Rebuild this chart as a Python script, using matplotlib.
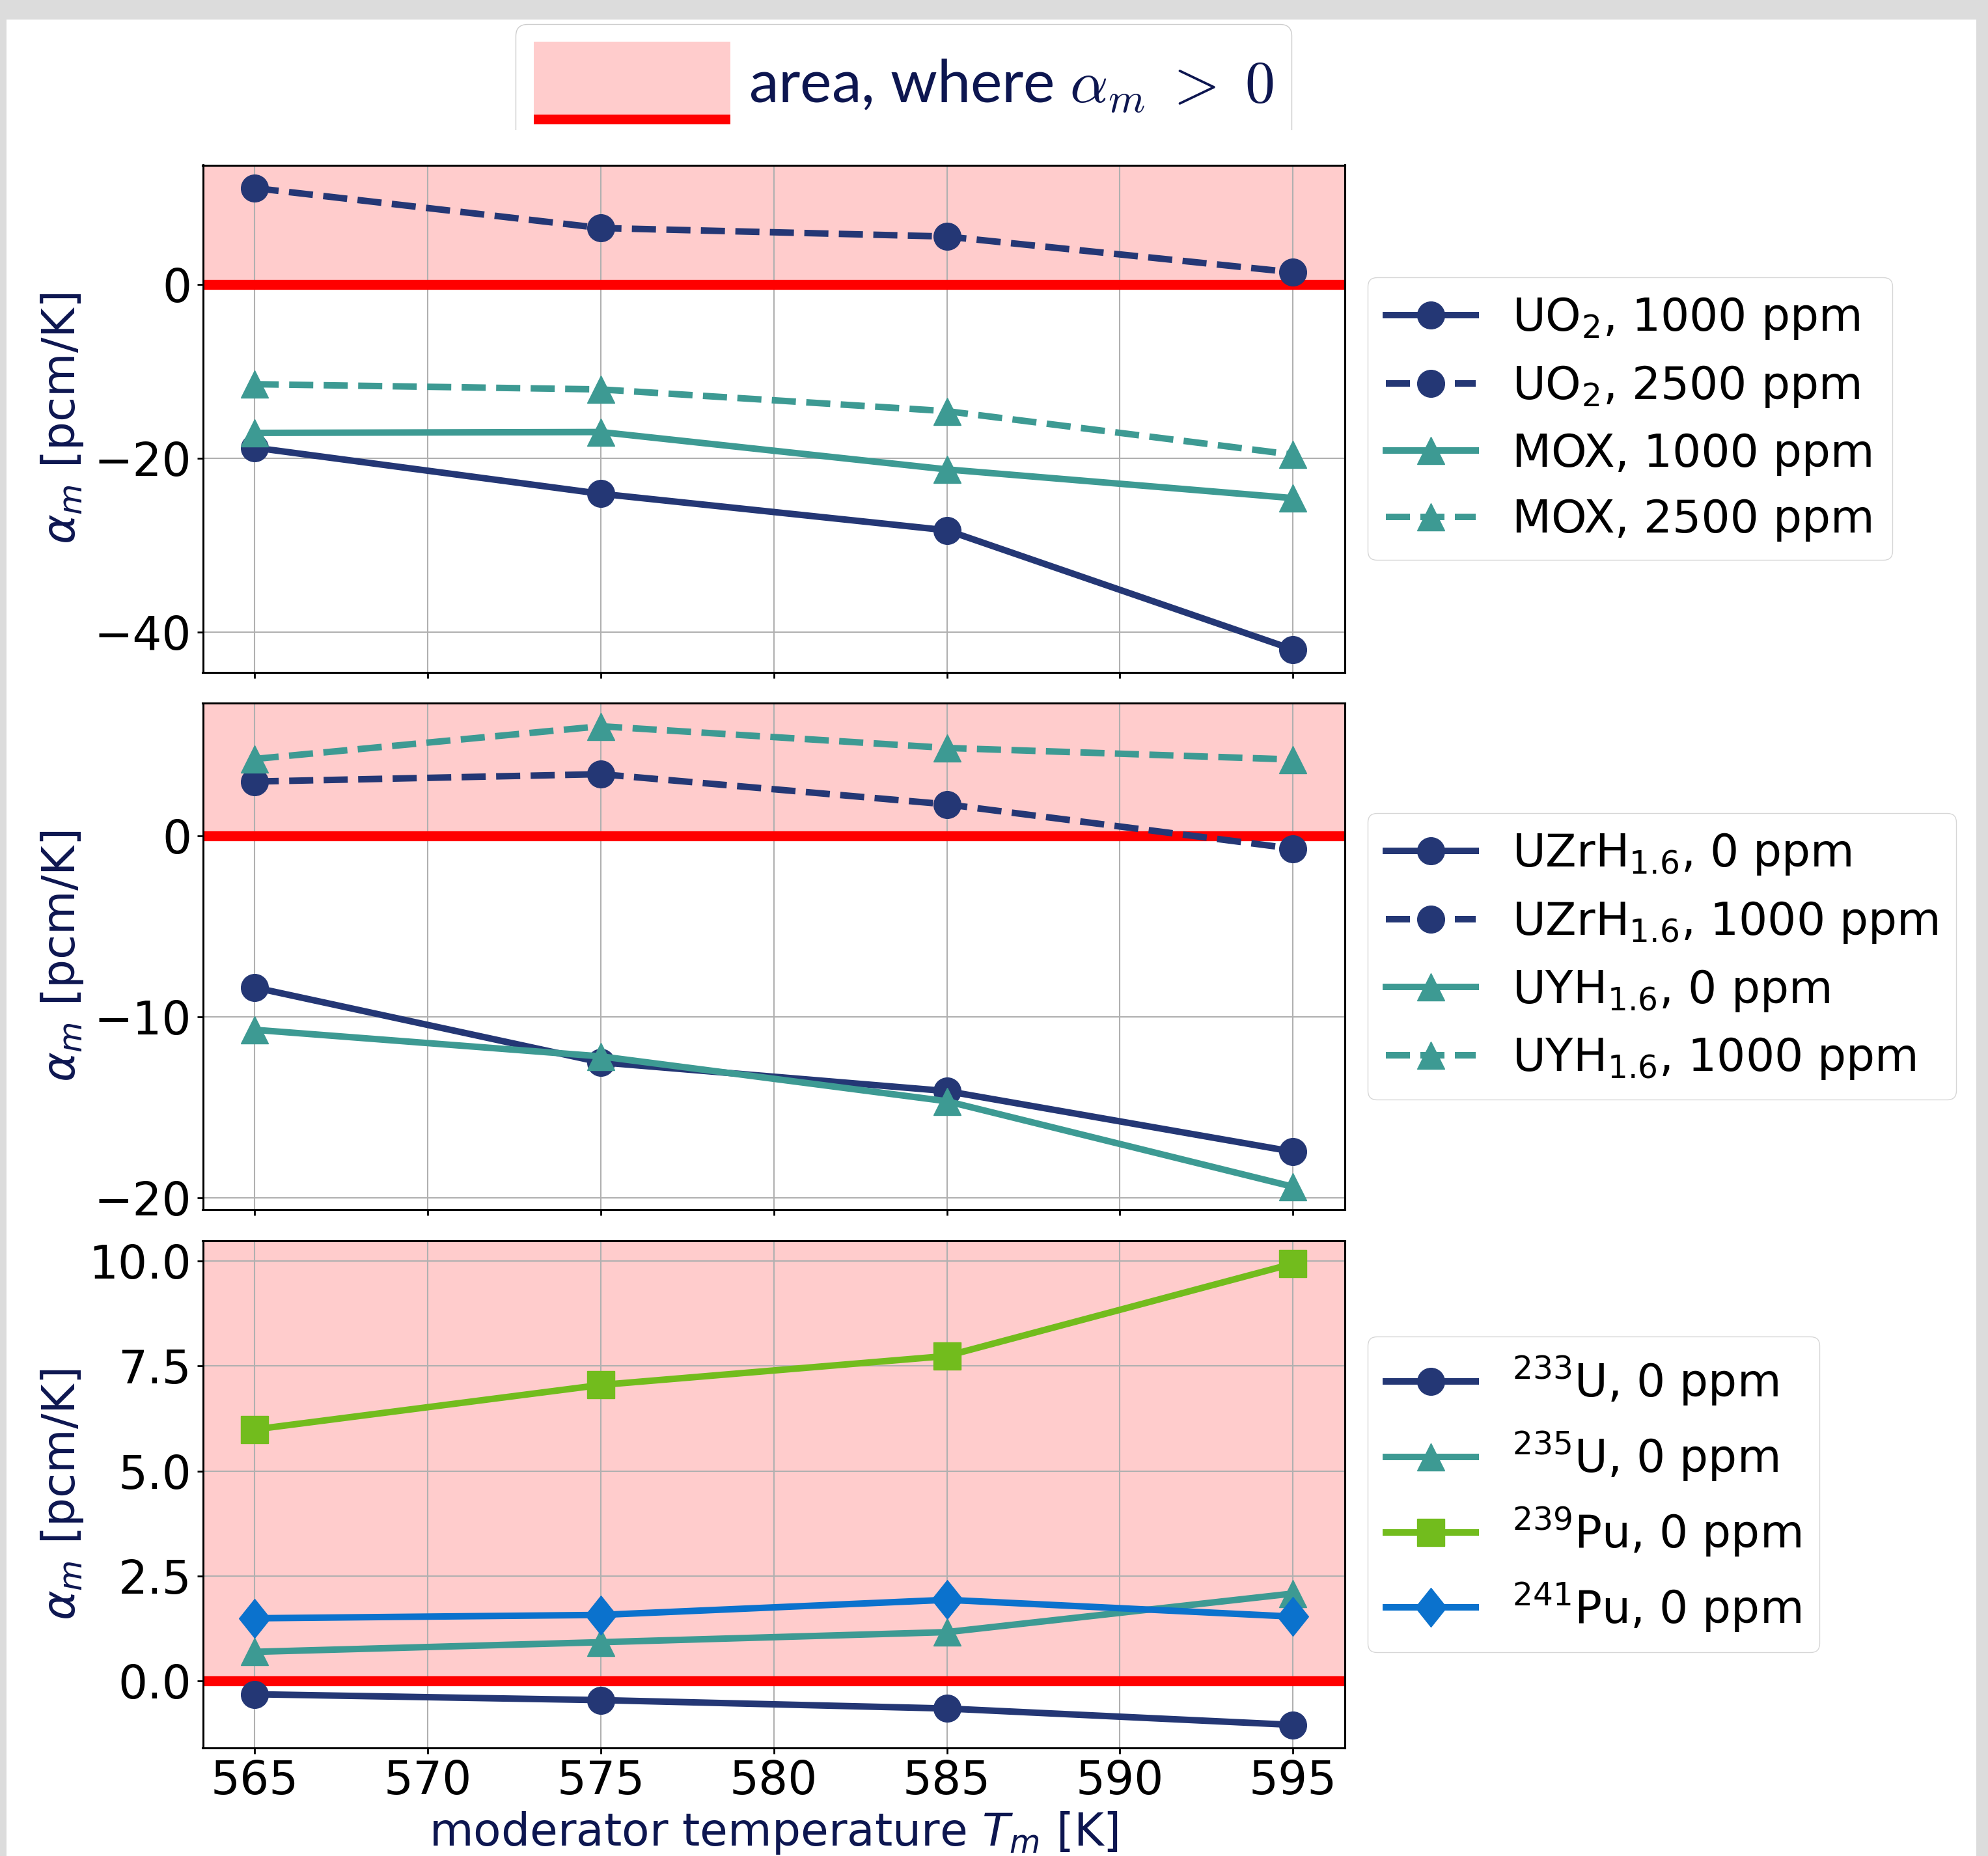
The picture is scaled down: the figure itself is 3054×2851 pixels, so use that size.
import matplotlib
matplotlib.use("Agg")
import matplotlib.pyplot as plt
from matplotlib.legend_handler import HandlerBase
from matplotlib.patches import Patch, Rectangle
from matplotlib.path import Path
from matplotlib.font_manager import FontProperties
from matplotlib.ticker import MultipleLocator

# moderator temperature [K]
T = [565, 575, 585, 595]

# panel 1: UO2 / MOX
uo2_1000 = [-18.8, -24.1, -28.3, -42.0]
uo2_2500 = [11.05, 6.46, 5.48, 1.37]
mox_1000 = [-17.1, -17.0, -21.3, -24.6]
mox_2500 = [-11.5, -12.1, -14.6, -19.6]

# panel 2: hydrides
uzrh_0 = [-8.38, -12.52, -14.11, -17.46]
uzrh_1000 = [3.01, 3.42, 1.75, -0.70]
uyh_0 = [-10.72, -12.19, -14.67, -19.4]
uyh_1000 = [4.26, 6.07, 4.87, 4.23]

# panel 3: single isotopes
u233 = [-0.32, -0.46, -0.66, -1.05]
u235 = [0.69, 0.92, 1.16, 2.08]
pu239 = [5.99, 7.05, 7.74, 9.94]
pu241 = [1.49, 1.57, 1.93, 1.53]

navy = '#243775'
teal = '#3d9a93'
green = '#72bc1d'
blue = '#0b72cd'
txt_navy = '#0d1650'
pink = (1, 0, 0, 0.2)

W, H = 3054, 2851
fig = plt.figure(figsize=(W/100, H/100), dpi=100)
fig.patch.set_facecolor('#dcdcdc')
fig.patches.append(Rectangle((10/W, 0), (3036-10)/W, 1-30/H, transform=fig.transFigure,
                             facecolor='white', edgecolor='none', zorder=-1))

# slightly narrow diamond marker
diamond = Path([(0, 1), (0.8, 0), (0, -1), (-0.8, 0), (0, 1)], closed=True)

lw = 7.2
ms = 30
left, width = 311.5/W, (2066-311.5)/W
rows = [(253.5, 1033), (1080.2, 1858.3), (1905.7, 2685)]
axes = []
for i, (top, bot) in enumerate(rows):
    if i == 0:
        ax = fig.add_axes([left, 1-bot/H, width, (bot-top)/H])
    else:
        ax = fig.add_axes([left, 1-bot/H, width, (bot-top)/H], sharex=axes[0])
    axes.append(ax)

ax1, ax2, ax3 = axes

ax1.plot(T, uo2_1000, '-', marker='o', color=navy, lw=lw, ms=ms, label=r'UO$_2$, 1000 ppm')
ax1.plot(T, uo2_2500, '--', marker='o', color=navy, lw=lw, ms=ms, label=r'UO$_2$, 2500 ppm')
ax1.plot(T, mox_1000, '-', marker='^', color=teal, lw=lw, ms=ms, label='MOX, 1000 ppm')
ax1.plot(T, mox_2500, '--', marker='^', color=teal, lw=lw, ms=ms, label='MOX, 2500 ppm')

ax2.plot(T, uzrh_0, '-', marker='o', color=navy, lw=lw, ms=ms, label=r'UZrH$_{1.6}$, 0 ppm')
ax2.plot(T, uzrh_1000, '--', marker='o', color=navy, lw=lw, ms=ms, label=r'UZrH$_{1.6}$, 1000 ppm')
ax2.plot(T, uyh_0, '-', marker='^', color=teal, lw=lw, ms=ms, label=r'UYH$_{1.6}$, 0 ppm')
ax2.plot(T, uyh_1000, '--', marker='^', color=teal, lw=lw, ms=ms, label=r'UYH$_{1.6}$, 1000 ppm')

ax3.plot(T, u233, '-', marker='o', color=navy, lw=lw, ms=ms, label=r'$^{233}$U, 0 ppm')
ax3.plot(T, u235, '-', marker='^', color=teal, lw=lw, ms=ms, label=r'$^{235}$U, 0 ppm')
ax3.plot(T, pu239, '-', marker='s', color=green, lw=lw, ms=ms, label=r'$^{239}$Pu, 0 ppm')
ax3.plot(T, pu241, '-', marker=diamond, color=blue, lw=lw, ms=43, label=r'$^{241}$Pu, 0 ppm')

for ax, step in zip(axes, [20, 10, 2.5]):
    ax.autoscale_view()
    lo, hi = ax.get_ylim()
    ax.axhspan(0, hi, color=pink, lw=0, zorder=1)
    ax.axhline(0, color='red', lw=11, zorder=1.8)
    ax.set_ylim(lo, hi)
    ax.yaxis.set_major_locator(MultipleLocator(step))
    ax.xaxis.set_major_locator(MultipleLocator(5))
    ax.grid(True, color='#b0b0b0', lw=1.5)
    ax.tick_params(labelsize=51, length=6.5, width=2, pad=6)
    for s in ax.spines.values():
        s.set_linewidth(2.2)
    ax.set_ylabel(r'$\alpha_m$ [pcm/K]', fontsize=50, color=txt_navy)
    ax.yaxis.set_label_coords(-0.103, 0.5)
    ax.legend(loc='center left', bbox_to_anchor=(1, 0.5), fontsize=50)

ax1.tick_params(labelbottom=False)
ax2.tick_params(labelbottom=False)
ax3.set_xlabel(r'moderator temperature $T_m$ [K]', fontsize=50, color=txt_navy, labelpad=6)


class AreaHandler(HandlerBase):
    def create_artists(self, legend, orig_handle, xdescent, ydescent, width, height, fontsize, trans):
        fill = Rectangle((-xdescent, -ydescent), width, height, facecolor=pink,
                         edgecolor='none', transform=trans)
        edge = Rectangle((-xdescent, -ydescent), width, height*0.12, facecolor='red',
                         edgecolor='none', transform=trans)
        return [fill, edge]


top_leg = fig.legend(handles=[Patch(facecolor=pink, label=r'area, where $\alpha_m \;>\; 0$')],
                     handler_map={Patch: AreaHandler()}, loc='upper left',
                     bbox_to_anchor=(792/W, 1-37/H), bbox_transform=fig.transFigure,
                     borderaxespad=0, prop=FontProperties(family='Lato', size=66, math_fontfamily='cm'),
                     labelcolor=txt_navy, handlelength=3.3, handleheight=1.75,
                     handletextpad=0.3, borderpad=0.3, framealpha=1, edgecolor='0.8')

# the top legend box is cut off at its lower edge
fig.patches.append(Rectangle((700/W, 1-248/H), 1400/W, 48/H, transform=fig.transFigure,
                             facecolor='white', edgecolor='none', zorder=10))

fig.savefig('out.png', dpi=100)
